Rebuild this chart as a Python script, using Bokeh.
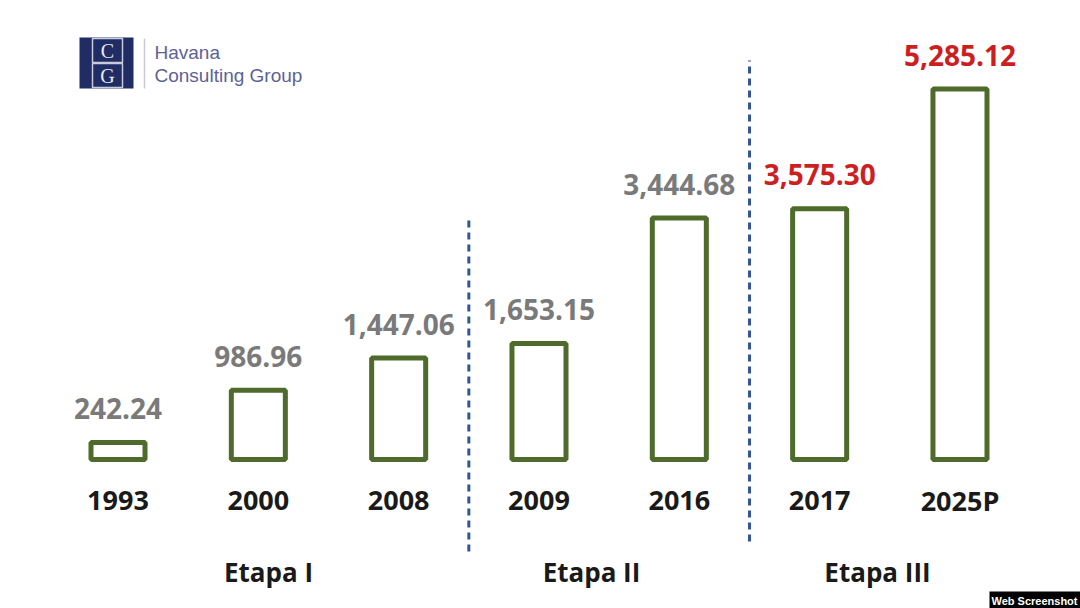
from bokeh.plotting import figure
from bokeh.models import ColumnDataSource, Range1d
from bokeh.core.properties import value
from bokeh.embed import file_html
from bokeh.resources import INLINE

# ---- data ----
categories = ["1993", "2000", "2008", "2009", "2016", "2017", "2025P"]
values = [242.24, 986.96, 1447.06, 1653.15, 3444.68, 3575.30, 5285.12]
value_labels = ["242.24", "986.96", "1,447.06", "1,653.15", "3,444.68", "3,575.30", "5,285.12"]
highlight = [False, False, False, False, False, True, True]
stages = ["Etapa I", "Etapa II", "Etapa III"]
stage_boundaries = [2.5, 4.5]  # between 2008|2009 and 2016|2017

# ---- layout helpers (pixel -> data) ----
X0, DX = 117.5, 140.33
BASE, K = 459.0, 0.0701
def X(px):
    return (px - X0) / DX
def Y(py):
    return (BASE - py) / K

W, H = 1080, 608
p = figure(width=W, height=H, output_backend="svg", toolbar_location=None,
           x_axis_location=None, y_axis_location=None, min_border=0,
           x_range=Range1d(X(0), X(W)), y_range=Range1d(Y(H), Y(0)))
p.grid.visible = False
p.outline_line_color = None
p.background_fill_color = "white"
p.border_fill_color = "white"

idx = list(range(len(categories)))
src = ColumnDataSource(dict(
    x=idx, top=values, cat=categories, lab=value_labels,
    col=["#cc1f1f" if h else "#7a7a7a" for h in highlight],
))

# bars
p.vbar(x="x", top="top", bottom=0, width=0.385, source=src,
       fill_color="white", line_color="#4e6b2c", line_width=5)

# value labels
p.text(x="x", y="top", text="lab", source=src, text_color="col",
       text_align="center", text_baseline="alphabetic", y_offset=-34,
       text_font=value("Open Sans"), text_font_style="bold", text_font_size="28px")

# category labels
p.text(x="x", y=0, text="cat", source=src, text_color="#1a1a1a",
       text_align="center", text_baseline="middle", y_offset=41,
       text_font=value("Open Sans"), text_font_style="bold", text_font_size="27px")

# stage separators
sep_top = [Y(217), Y(60)]
sep_bot = [Y(551), Y(541)]
p.segment(x0=stage_boundaries, x1=stage_boundaries, y0=sep_bot, y1=sep_top,
          line_color="#34559a", line_width=3, line_dash="7 5")

# stage labels
p.text(x=[X(268), X(591), X(877)], y=[Y(571)] * 3, text=stages,
       text_color="#1a1a1a", text_align="center", text_baseline="middle",
       text_font=value("Open Sans"), text_font_style="bold", text_font_size="26px")

# logo
navy = "#1f2d64"
p.quad(left=[X(79)], right=[X(133)], top=[Y(37)], bottom=[Y(88)],
       fill_color=navy, line_color=None)
p.quad(left=[X(92), X(92)], right=[X(122), X(122)], top=[Y(38), Y(63)],
       bottom=[Y(62), Y(87)], fill_color=navy, line_color="#c9cbdb", line_width=1.5)
p.text(x=[X(107), X(107)], y=[Y(50), Y(75)], text=["C", "G"],
       text_color="#e8e9f0", text_align="center", text_baseline="middle",
       text_font=value("Liberation Serif"), text_font_size="20px")
p.segment(x0=[X(144)], x1=[X(144)], y0=[Y(38)], y1=[Y(88)],
          line_color="#c8cadc", line_width=1.5)
p.text(x=[X(154), X(154)], y=[Y(52), Y(75)], text=["Havana", "Consulting Group"],
       text_color="#5d6296", text_align="left", text_baseline="middle",
       text_font=value("Liberation Sans"), text_font_size="19px")

# badge
p.quad(left=[X(989)], right=[X(1080)], top=[Y(591)], bottom=[Y(608)],
       fill_color="black", line_color=None)
p.text(x=[X(1034)], y=[Y(600)], text=["Web Screenshot"], text_color="white",
       text_align="center", text_baseline="middle",
       text_font=value("Liberation Sans"), text_font_style="bold", text_font_size="11px")

open("out.html", "w").write(file_html(p, INLINE))
